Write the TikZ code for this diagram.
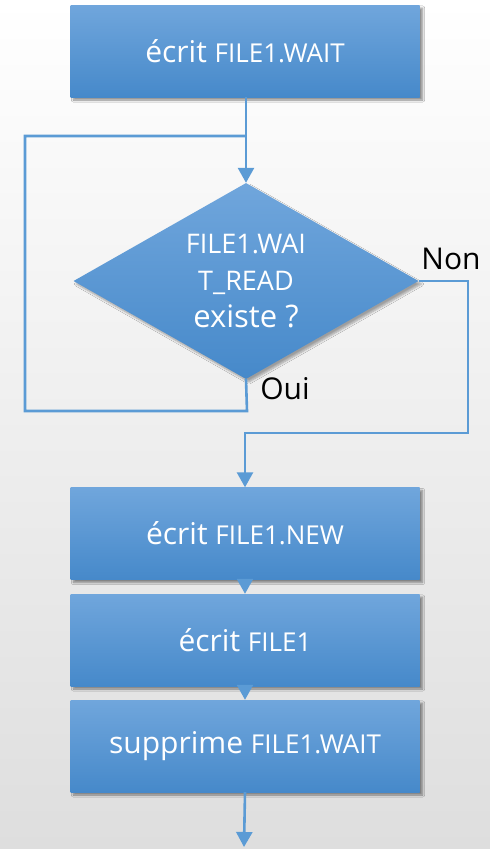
\documentclass[tikz,border=0pt]{standalone}
\usepackage{fontspec}
\setmainfont{Open Sans}
\usetikzlibrary{arrows.meta,shapes.geometric,shadows.blur}
\definecolor{linkblue}{RGB}{91,155,213}
\definecolor{boxtop}{RGB}{112,166,220}
\definecolor{boxbot}{RGB}{70,137,202}
\definecolor{bgbot}{RGB}{222,222,222}
\tikzset{
  x=1pt, y=-1pt,
  stepbox/.style={rectangle, minimum width=349pt, minimum height=92pt, inner sep=0pt,
    top color=boxtop, bottom color=boxbot, text=white,
    blur shadow={shadow xshift=3pt, shadow yshift=-3pt, shadow blur steps=6, shadow opacity=45}},
  testbox/.style={diamond, minimum width=345pt, minimum height=196pt, inner sep=0pt,
    top color=boxtop, bottom color=boxbot,
    blur shadow={shadow xshift=3pt, shadow yshift=-3pt, shadow blur steps=6, shadow opacity=35}},
  testtext/.style={text=white, align=center, inner sep=0pt,
    font=\fontsize{27}{37}\selectfont},
  link/.style={draw=linkblue, line width=2.6pt},
  head/.style={-{Triangle[length=15pt,width=16pt]}},
  big/.style={font=\fontsize{30}{36}\selectfont},
  answer/.style={font=\fontsize{30}{36}\selectfont, text=black}
}
\newcommand{\fname}[1]{{\fontsize{26}{30}\selectfont #1}}
\begin{document}
\begin{tikzpicture}
  % background
  \shade[top color=white, bottom color=bgbot] (0,0) rectangle (490,849);
  \useasboundingbox (0,0) rectangle (490,849);

  \node[stepbox, big] (w1) at (245,51) {écrit \fname{FILE1.WAIT}};
  \node[testbox] (q) at (246,281) {};
  \node[testtext] (qtext) at (q.center) {FILE1.WAI\\T\_READ\\{\fontsize{31}{37}\selectfont existe ?}};
  \node[stepbox, big] (w2) at (245,533.5) {écrit \fname{FILE1.NEW}};
  \node[stepbox, big] (w3) at (245,640) {écrit \fname{FILE1}};
  \node[stepbox, big] (w4) at (245,746) {supprime \fname{FILE1.WAIT}};

  \coordinate (join) at (246,136);
  \coordinate (end) at (244,847);

  % flow
  \draw[link, head] (w1.south -| q.north) -- (q.north);
  \draw[link] (q.south) -- (247,411) -- (25,411) -- (25,136) -- (join);
  \draw[link, head] (q.east) -- (468,281) -- (468,433) -- (245,433) -- (w2.north);
  \draw[link, head] (w2.south) -- (w3.north);
  \draw[link, head] (w3.south) -- (w4.north);
  \draw[link, head] (w4.south) -- (end);

  % answers
  \node[answer] (non) at (451,259) {Non};
  \node[answer] (oui) at (285,389) {Oui};
\end{tikzpicture}
\end{document}
